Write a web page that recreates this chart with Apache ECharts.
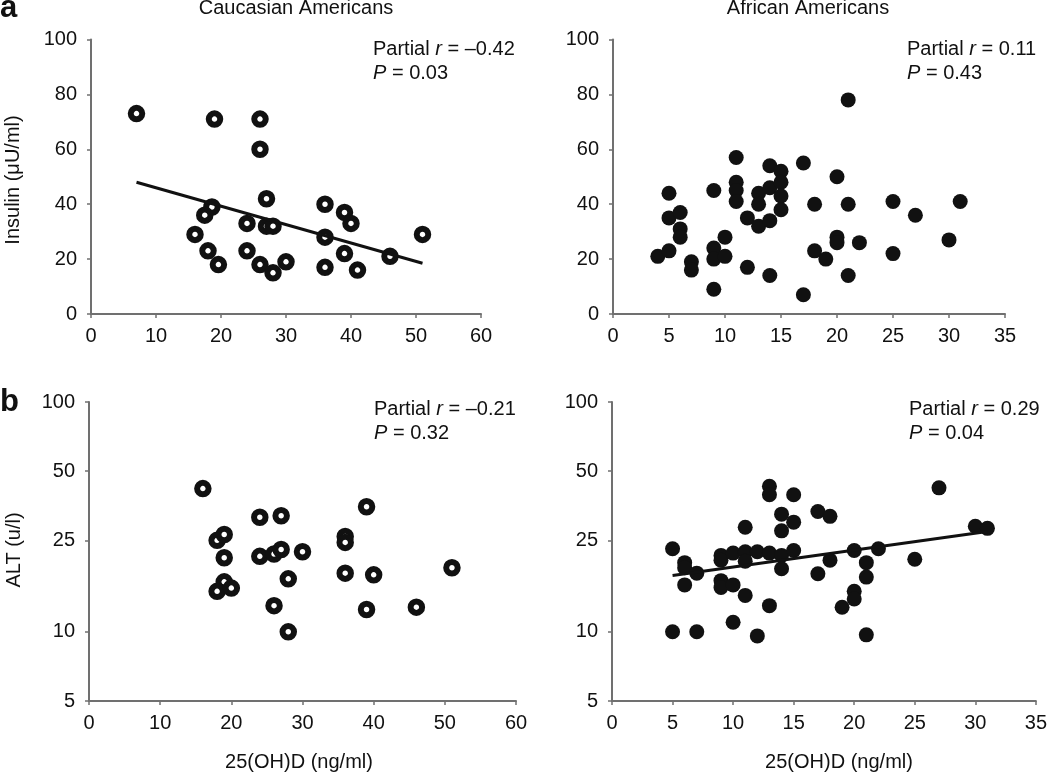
<!DOCTYPE html>
<html>
<head>
<meta charset="utf-8">
<script src="https://cdn.jsdelivr.net/npm/echarts@6/dist/echarts.min.js"></script>
<style>
html,body{margin:0;padding:0;background:#fff;}
#chart{width:1050px;height:774px;}
</style>
</head>
<body>
<div id="chart"></div>
<script>
// ---- Data (25(OH)D ng/ml, outcome) ----
const caucInsulin = [[7,73],[19,71],[26,71],[26,60],[27,42],[18.6,39],[17.5,36],[16,29],[18,23],[19.6,18],[24,33],[24,23],[26,18],[28,15],[30,19],[27,32],[28,32],[36,40],[36,28],[36,17],[39,37],[40,33],[39,22],[41,16],[46,21],[51,29]];
const caucInsulinFit = [[7,48],[51,18.5]];
const afrInsulin = [[4,21],[5,23],[5,44],[5,35],[6,37],[6,31],[6,28],[7,19],[7,16],[9,45],[9,24],[9,20],[10,21],[10,28],[9,9],[11,57],[11,48],[11,45],[11,41],[12,35],[12,17],[13,44],[13,40],[13,32],[14,54],[14,46],[14,34],[14,14],[15,52],[15,48],[15,43],[15,38],[17,55],[17,7],[18,40],[18,23],[19,20],[20,50],[20,28],[20,26],[21,78],[21,40],[21,14],[22,26],[25,41],[25,22],[27,36],[30,27],[31,41]];
const caucALT = [[16,42],[24,31.5],[27,32],[39,35],[18,25],[19,26.5],[19,21],[19,16.5],[18,15],[20,15.5],[24,21.3],[26,21.8],[27,22.8],[30,22.3],[28,17],[26,13],[28,10],[36,26],[36,24.5],[36,18],[40,17.7],[39,12.5],[46,12.8],[51,19]];
const afrALT = [[5,23],[5,10],[6,20],[6,19],[6,16],[7,18],[7,10],[9,21.5],[9,20.5],[9,16.7],[9,15.6],[10,22],[10,16],[10,11],[11,28.5],[11,22.3],[11,20.3],[11,14.4],[12,22.3],[12,9.6],[13,43],[13,39.5],[13,22],[13,13],[14,32.5],[14,27.5],[14,21.5],[14,18.8],[15,39.5],[15,30],[15,22.6],[17,33.4],[17,17.9],[18,31.8],[18,20.5],[19,12.8],[20,22.6],[20,15],[20,13.9],[21,20],[21,17.3],[21,9.7],[22,23],[25,20.7],[27,42.3],[30,28.8],[31,28.2]];
const afrALTFit = [[5,17.6],[31,27.3]];

const insulinTicks = [0,20,40,60,80,100];
const altTicks = [5,10,25,50,100];
const caucXTicks = [0,10,20,30,40,50,60];
const afrXTicks = [0,5,10,15,20,25,30,35];

const panelTitles = ['Caucasian Americans','African Americans'];
const panelLetters = ['a','b'];
const yTitles = ['Insulin (\u03bcU/ml)','ALT (u/l)'];
const xTitle = '25(OH)D (ng/ml)';
const stats = [['\u20130.42','0.03'],['0.11','0.43'],['\u20130.21','0.32'],['0.29','0.04']];

// ---- Styles ----
const FONT = '"Liberation Sans", Arial, Helvetica, sans-serif';
const AX = '#707070';
const INK = '#111';
const FS = 20;

function xAxis(gi, ticks){
  return {
    type:'value', gridIndex:gi, min:ticks[0], max:ticks[ticks.length-1],
    interval: ticks[1]-ticks[0],
    axisLine:{show:true,onZero:false,lineStyle:{color:AX,width:2}},
    axisTick:{show:true,inside:false,length:4,lineStyle:{color:AX,width:1.5}},
    axisLabel:{color:'#111',fontSize:FS,fontFamily:FONT,margin:12},
    splitLine:{show:false}
  };
}
function yAxisLinear(gi, ticks){
  return {
    type:'value', gridIndex:gi, min:ticks[0], max:ticks[ticks.length-1],
    interval: ticks[1]-ticks[0],
    axisLine:{show:true,onZero:false,lineStyle:{color:AX,width:2}},
    axisTick:{show:true,inside:false,length:4,lineStyle:{color:AX,width:1.5}},
    axisLabel:{color:'#111',fontSize:FS,fontFamily:FONT,margin:14},
    splitLine:{show:false}
  };
}
function yAxisLog(gi, ticks){
  return {
    type:'log', logBase:10, gridIndex:gi, min:ticks[0], max:ticks[ticks.length-1],
    axisLine:{show:true,onZero:false,lineStyle:{color:AX,width:2}},
    axisTick:{show:true,inside:false,length:4,customValues:ticks,lineStyle:{color:AX,width:1.5}},
    axisLabel:{color:'#111',fontSize:FS,fontFamily:FONT,margin:14,customValues:ticks},
    minorTick:{show:false},
    splitLine:{show:false}
  };
}
function ring(gi, data){
  return {type:'scatter',xAxisIndex:gi,yAxisIndex:gi,data:data,symbol:'circle',symbolSize:11.5,
    itemStyle:{color:'#fff',borderColor:INK,borderWidth:6,opacity:1},z:3};
}
function dots(gi, data){
  return {type:'scatter',xAxisIndex:gi,yAxisIndex:gi,data:data,symbol:'circle',symbolSize:15,
    itemStyle:{color:INK,opacity:1},z:3};
}
function fit(gi, data){
  return {type:'line',xAxisIndex:gi,yAxisIndex:gi,data:data,symbol:'none',
    lineStyle:{color:INK,width:3},z:4};
}
function statText(x, y, s){
  return {type:'text',left:x,top:y,z:10,style:{
    text:'{n|Partial }{i|r}{n| = '+s[0]+'}\n{i|P}{n| = '+s[1]+'}',
    rich:{n:{fontSize:FS,fontFamily:FONT,fill:'#111',lineHeight:24},
          i:{fontSize:FS,fontFamily:FONT,fontStyle:'italic',fill:'#111',lineHeight:24}}
  }};
}
function plainText(x, y, txt, rot){
  return {type:'text',x:x,y:y,z:10,rotation:rot||0,style:{
    text:txt,fontSize:FS,fontFamily:FONT,fill:'#111',align:'center',verticalAlign:'middle'}};
}
function letter(x, y, txt){
  return {type:'text',x:x,y:y,z:10,style:{text:txt,fontSize:31,fontWeight:'bold',fontFamily:FONT,
    fill:'#111',align:'left',verticalAlign:'middle'}};
}

const chart = echarts.init(document.getElementById('chart'), null, {renderer:'canvas'});
chart.setOption({
  animation:false,
  backgroundColor:'#fff',
  grid:[
    {left:91,top:39.5,width:390,height:274.5},
    {left:613,top:39.5,width:392,height:274.5},
    {left:89,top:402,width:427,height:299},
    {left:612,top:402,width:426,height:299}
  ],
  xAxis:[xAxis(0,caucXTicks),xAxis(1,afrXTicks),xAxis(2,caucXTicks),xAxis(3,afrXTicks)],
  yAxis:[yAxisLinear(0,insulinTicks),yAxisLinear(1,insulinTicks),yAxisLog(2,altTicks),yAxisLog(3,altTicks)],
  series:[
    ring(0,caucInsulin), fit(0,caucInsulinFit),
    dots(1,afrInsulin),
    ring(2,caucALT),
    dots(3,afrALT), fit(3,afrALTFit)
  ],
  graphic:[
    plainText(296,8.5,panelTitles[0]),
    plainText(808,8.5,panelTitles[1]),
    letter(0,8.5,panelLetters[0]),
    letter(0,402.5,panelLetters[1]),
    plainText(13,180,yTitles[0],Math.PI/2),
    plainText(14.5,550,yTitles[1],Math.PI/2),
    plainText(299,762,xTitle),
    plainText(839,762,xTitle),
    statText(373,39,stats[0]),
    statText(907,39,stats[1]),
    statText(374,399,stats[2]),
    statText(909,399,stats[3])
  ]
});
</script>
</body>
</html>
